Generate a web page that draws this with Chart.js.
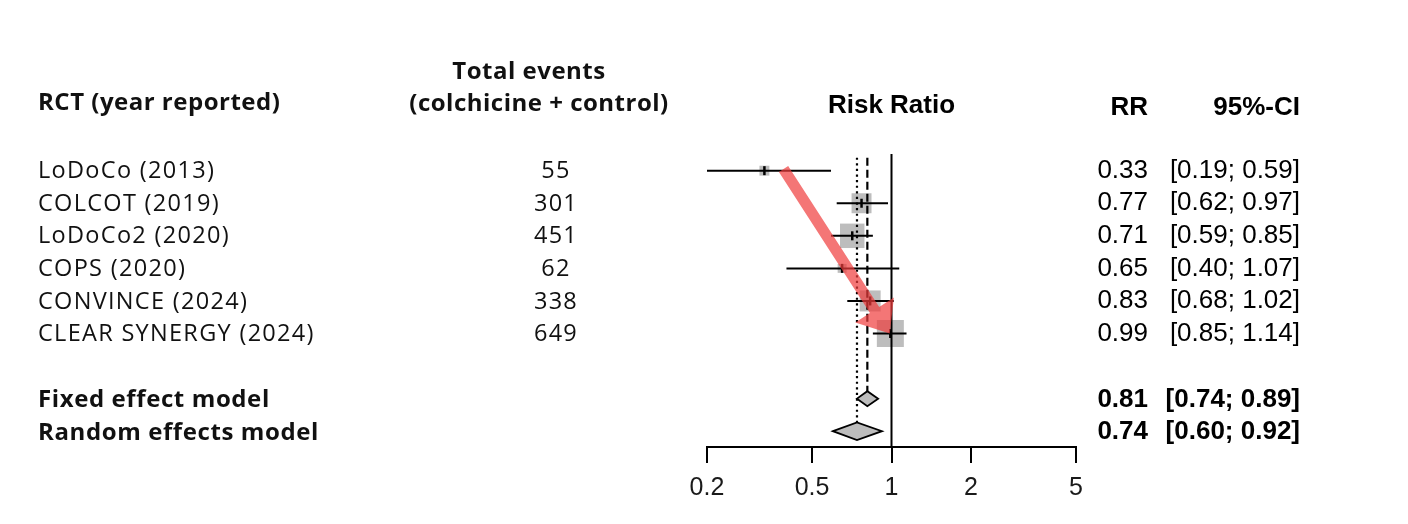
<!DOCTYPE html>
<html>
<head>
<meta charset="utf-8">
<script src="https://cdn.jsdelivr.net/npm/chart.js@4.4.1/dist/chart.umd.min.js"></script>
<style>
  html, body { margin: 0; padding: 0; background: #fff; }
  #wrap { width: 1408px; height: 524px; position: relative; }
</style>
</head>
<body>
<div id="wrap"><canvas id="c" width="1408" height="524"></canvas></div>
<script>
// ---------------- DATA ----------------
const studies = ["LoDoCo (2013)", "COLCOT (2019)", "LoDoCo2 (2020)", "COPS (2020)", "CONVINCE (2024)", "CLEAR SYNERGY (2024)"];
const totalEvents = [55, 301, 451, 62, 338, 649];
const rr = [0.33, 0.77, 0.71, 0.65, 0.83, 0.99];
const ciLow = [0.19, 0.62, 0.59, 0.40, 0.68, 0.85];
const ciHigh = [0.59, 0.97, 0.85, 1.07, 1.02, 1.14];
const weights = [4.2, 17.0, 25.5, 3.4, 18.8, 31.1];   // estimated from square sizes (%)
const pooledLabels = ["Fixed effect model", "Random effects model"];
const pooledRR = [0.81, 0.74];
const pooledLow = [0.74, 0.60];
const pooledHigh = [0.89, 0.92];
const xTicks = [0.2, 0.5, 1, 2, 5];
const headers = {
  study: "RCT (year reported)",
  events1: "Total events",
  events2: "(colchicine + control)",
  axis: "Risk Ratio",
  rr: "RR",
  ci: "95%-CI"
};
// highlight arrow (annotation, in data coordinates)
const arrowFrom = { x: 0.39, y: -0.05 };
const arrowTo = { x: 0.985, y: 5.0 };

// ---------------- STYLE ----------------
const maxSide = 27;          // px side of largest square
const diamondHalf = [0.23, 0.27]; // half heights in row units
const rowFixed = studies.length + 1;
const rowRandom = studies.length + 2;
const pooledRows = [rowFixed, rowRandom];
const wMax = Math.max(...weights);

const datasets = [];

// squares
datasets.push({
  type: 'scatter',
  data: rr.map((v, i) => ({ x: v, y: i })),
  pointStyle: 'rect',
  pointRadius: weights.map(w => (maxSide * Math.sqrt(w / wMax)) / (2 * Math.SQRT1_2)),
  backgroundColor: '#bdbdbd',
  borderWidth: 0,
  order: 10
});

// reference lines: no effect (solid), fixed (dashed), random (dotted)
datasets.push({
  type: 'scatter', showLine: true,
  data: [{ x: 1, y: -0.51 }, { x: 1, y: 9 }],
  borderColor: '#000', borderWidth: 2, pointRadius: 0, order: 8
});
datasets.push({
  type: 'scatter', showLine: true,
  data: [{ x: pooledRR[0], y: -0.4 }, { x: pooledRR[0], y: rowFixed - diamondHalf[0] }],
  borderColor: '#000', borderWidth: 2.2, borderDash: [8, 4], pointRadius: 0, order: 8
});
datasets.push({
  type: 'scatter', showLine: true,
  data: [{ x: pooledRR[1], y: -0.4 }, { x: pooledRR[1], y: rowRandom - diamondHalf[1] }],
  borderColor: '#000', borderWidth: 2.2, borderDash: [2.2, 3.4], pointRadius: 0, order: 8
});

// CI lines
studies.forEach((s, i) => {
  datasets.push({
    type: 'scatter', showLine: true,
    data: [{ x: ciLow[i], y: i }, { x: ciHigh[i], y: i }],
    borderColor: '#000', borderWidth: 2, pointRadius: 0, order: 5
  });
});

// point estimate ticks
datasets.push({
  type: 'scatter',
  data: rr.map((v, i) => ({ x: v, y: i })),
  pointStyle: 'line', rotation: 90,
  pointRadius: 4.5, borderColor: '#000', borderWidth: 2.5,
  order: 2
});

const overlayPlugin = {
  id: 'overlay',
  afterDatasetsDraw(chart) {
    const { ctx, scales: { x, y } } = chart;
    // diamonds
    pooledRows.forEach((row, j) => {
      const yc = y.getPixelForValue(row);
      const yt = y.getPixelForValue(row - diamondHalf[j]);
      const yb = y.getPixelForValue(row + diamondHalf[j]);
      const xl = x.getPixelForValue(pooledLow[j]);
      const xr = x.getPixelForValue(pooledHigh[j]);
      const xm = x.getPixelForValue(pooledRR[j]);
      ctx.save();
      ctx.beginPath();
      ctx.moveTo(xl, yc); ctx.lineTo(xm, yt); ctx.lineTo(xr, yc); ctx.lineTo(xm, yb); ctx.closePath();
      ctx.fillStyle = '#bdbdbd'; ctx.fill();
      ctx.lineWidth = 1.8; ctx.strokeStyle = '#000'; ctx.stroke();
      ctx.restore();
    });
    // arrow
    const p0 = { x: x.getPixelForValue(arrowFrom.x), y: y.getPixelForValue(arrowFrom.y) };
    const p1 = { x: x.getPixelForValue(arrowTo.x), y: y.getPixelForValue(arrowTo.y) };
    const dx = p1.x - p0.x, dy = p1.y - p0.y, L = Math.hypot(dx, dy);
    const u = { x: dx / L, y: dy / L }, n = { x: -u.y, y: u.x };
    const headLen = 28, headHalf = 23, sw = 5.5;
    const b = { x: p1.x - u.x * headLen, y: p1.y - u.y * headLen };
    ctx.save();
    ctx.beginPath();
    ctx.moveTo(p0.x + n.x * sw, p0.y + n.y * sw);
    ctx.lineTo(b.x + n.x * sw, b.y + n.y * sw);
    ctx.lineTo(b.x + n.x * headHalf, b.y + n.y * headHalf);
    ctx.lineTo(p1.x, p1.y);
    ctx.lineTo(b.x - n.x * headHalf, b.y - n.y * headHalf);
    ctx.lineTo(b.x - n.x * sw, b.y - n.y * sw);
    ctx.lineTo(p0.x - n.x * sw, p0.y - n.y * sw);
    ctx.closePath();
    ctx.fillStyle = 'rgba(240, 60, 60, 0.7)';
    ctx.fill();
    ctx.restore();
  },
  afterDraw(chart) {
    const { ctx, scales: { x, y } } = chart;
    ctx.save();
    ctx.textBaseline = 'middle';
    const aptos = '"Open Sans", "DejaVu Sans", sans-serif';
    const arial = '"Liberation Sans", Arial, sans-serif';
    // left headers
    ctx.fillStyle = '#111';
    ctx.letterSpacing = '0.5px';
    ctx.font = 'bold 24px ' + aptos;
    ctx.textAlign = 'left';
    ctx.fillText(headers.study, 38, 103);
    ctx.textAlign = 'center';
    ctx.fillText(headers.events1, 529, 72);
    ctx.fillText(headers.events2, 539, 104);
    // study rows
    ctx.font = '23.5px ' + aptos;
    ctx.letterSpacing = '1.3px';
    studies.forEach((s, i) => {
      const py = y.getPixelForValue(i) + 1;
      ctx.textAlign = 'left';
      ctx.fillText(s, 38, py);
      ctx.textAlign = 'center';
      ctx.fillText(String(totalEvents[i]), 556, py);
    });
    ctx.font = 'bold 24px ' + aptos;
    ctx.letterSpacing = '0.6px';
    pooledLabels.forEach((s, j) => {
      ctx.textAlign = 'left';
      ctx.fillText(s, 38, y.getPixelForValue(pooledRows[j]) + 2);
    });
    ctx.letterSpacing = '0px';
    // right side
    ctx.fillStyle = '#000';
    ctx.font = 'bold 26px ' + arial;
    ctx.textAlign = 'center';
    ctx.fillText(headers.axis, x.getPixelForValue(1), 106);
    ctx.textAlign = 'right';
    ctx.fillText(headers.rr, 1148, 108);
    ctx.fillText(headers.ci, 1300, 108);
    ctx.font = '26px ' + arial;
    rr.forEach((v, i) => {
      const py = y.getPixelForValue(i);
      ctx.fillText(v.toFixed(2), 1148, py);
      ctx.fillText('[' + ciLow[i].toFixed(2) + '; ' + ciHigh[i].toFixed(2) + ']', 1300, py);
    });
    ctx.font = 'bold 26px ' + arial;
    pooledRR.forEach((v, j) => {
      const py = y.getPixelForValue(pooledRows[j]) + 1;
      ctx.fillText(v.toFixed(2), 1148, py);
      ctx.fillText('[' + pooledLow[j].toFixed(2) + '; ' + pooledHigh[j].toFixed(2) + ']', 1300, py);
    });
    ctx.restore();
  }
};

new Chart(document.getElementById('c'), {
  type: 'scatter',
  data: { datasets },
  options: {
    responsive: false,
    animation: false,
    devicePixelRatio: 1,
    layout: { padding: { left: 707, right: 332, top: 150, bottom: 0 } },
    plugins: { legend: { display: false }, tooltip: { enabled: false } },
    scales: {
      x: {
        type: 'logarithmic', min: 0.2, max: 5, position: 'bottom',
        afterBuildTicks: (s) => { s.ticks = xTicks.map(v => ({ value: v })); },
        afterFit: (s) => { s.height = 77; },
        ticks: {
          autoSkip: false, maxRotation: 0, padding: 10,
          color: '#1a1a1a',
          font: { family: '"Liberation Sans", Arial, sans-serif', size: 25 },
          callback: (v) => String(v)
        },
        grid: { display: true, drawOnChartArea: false, drawTicks: true, tickLength: 16, tickColor: '#000', tickWidth: 2, color: '#000', lineWidth: 2 },
        border: { display: true, color: '#000', width: 2 }
      },
      y: {
        type: 'linear', reverse: true, min: -0.635, max: 8.485, display: false
      }
    }
  },
  plugins: [overlayPlugin]
});
</script>
</body>
</html>
